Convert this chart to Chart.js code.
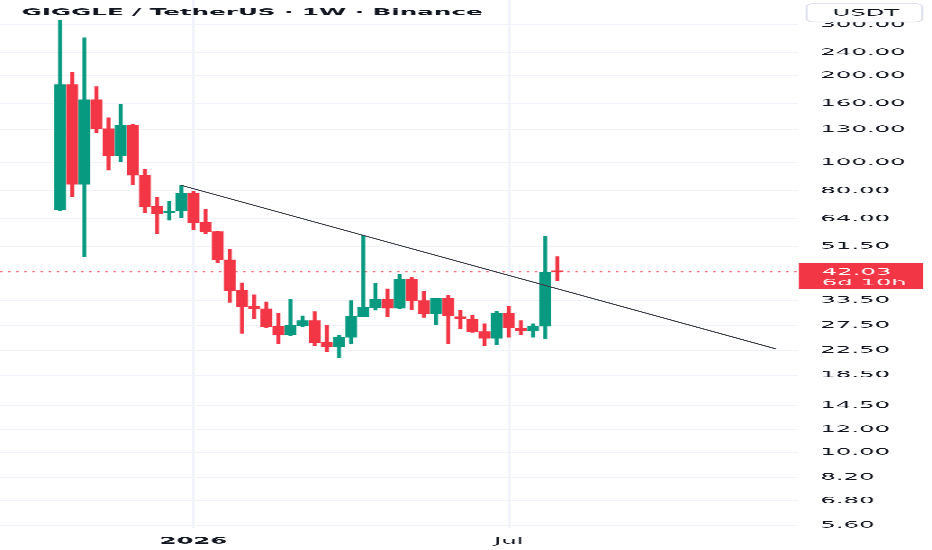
<!DOCTYPE html>
<html>
<head>
<meta charset="utf-8">
<title>GIGGLE / TetherUS 1W</title>
<script src="https://cdn.jsdelivr.net/npm/chart.js@4.4.1/dist/chart.umd.min.js"></script>
<style>
    html, body { margin: 0; padding: 0; background: #fff; overflow: hidden; }
    /* the reference is a narrow screenshot stretched sideways, so draw narrow and stretch */
    #wrap { width: 345px; height: 550px; transform: scaleX(2.7014); transform-origin: 0 0; }
</style>
</head>
<body>
<div id="wrap"><canvas id="grafica" width="345" height="550"></canvas></div>
<script>
// Velas semanales (OHLC)
const opens  = [68.8, 186, 84.4, 165, 131, 105.7, 135, 90.7, 70.7, 67.2, 68.3, 78.4, 62.2, 57.8,
                46.2, 36.2, 31.9, 31.3, 27.2, 25.5, 27.4, 28.5, 24.0, 23.2, 25.0, 29.5, 31.7, 33.7,
                31.5, 39.5, 33.4, 30.1, 34.1, 29.4, 28.8, 26.1, 24.8, 30.2, 26.9, 26.3, 27.3, 42.3];
const highs  = [311, 205, 270, 183, 143, 159, 136, 95.1, 75.9, 73.4, 83.6, 79.6, 69.2, 58.0,
                50.2, 38.5, 35.0, 33.1, 30.2, 33.7, 29.6, 30.6, 27.4, 25.3, 33.4, 56.3, 38.3, 36.7,
                41.3, 40.2, 35.9, 34.1, 34.8, 31.0, 29.7, 27.8, 30.7, 31.9, 28.5, 27.8, 55.7, 47.4];
const lows   = [68.5, 76.5, 47.5, 127, 94.4, 101, 84, 67.1, 56.8, 63.4, 64.6, 58.6, 57.0, 45.3,
                33.0, 25.8, 29.0, 27.0, 23.8, 25.3, 27.2, 23.4, 22.3, 21.2, 23.7, 29.4, 31.0, 29.4,
                31.3, 31.1, 29.3, 27.6, 23.7, 26.7, 26.0, 23.4, 23.6, 25.0, 25.5, 25.0, 24.7, 39.2];
const closes = [186, 84.4, 165, 131, 105.7, 135, 90.7, 70.7, 66.9, 68.0, 78.4, 62.2, 57.8, 46.2,
                36.2, 31.9, 31.3, 27.2, 25.5, 27.4, 28.5, 24.0, 23.2, 25.0, 29.5, 31.7, 33.7, 31.5,
                39.5, 33.4, 30.1, 34.0, 29.7, 29.0, 26.1, 24.8, 30.2, 26.9, 26.4, 27.3, 41.8, 42.03];

// Eje de precios y eje de tiempo (índice de la vela semanal)
const priceTicks = [300, 240, 200, 160, 130, 100, 80, 64, 51.5, 33.5, 27.5, 22.5, 18.5, 14.5, 12, 10, 8.2, 6.8, 5.6];
const timeTicks  = [11, 37];
const timeLabels = ['2026', 'Jul'];

// Línea de tendencia (vela, precio)
const trendX = [10, 59];
const trendY = [83.6, 22.8];

const lastPrice = 42.03;
const countdown = '6d 10h';
const titulo = 'GIGGLE / TetherUS · 1W · Binance';
const moneda = 'USDT';

const VERDE = '#089981';
const ROJO = '#f23645';
const TEXTO = '#131722';
const GRID = '#f0f3fa';
const FUENTE = "'DejaVu Sans', sans-serif";

Chart.defaults.font.family = FUENTE;
Chart.defaults.font.size = 9;
Chart.defaults.color = TEXTO;

const colores = closes.map((c, i) => c >= opens[i] ? VERDE : ROJO);
const mechas = lows.map((l, i) => ({ x: i, y: [l, highs[i]] }));
const cuerpos = opens.map((o, i) => ({ x: i, y: [o, closes[i]] }));

const extras = {
    id: 'extras',
    beforeDatasetsDraw(chart) {
        // línea punteada del último precio
        const { ctx, chartArea } = chart;
        const y = chart.scales.y.getPixelForValue(lastPrice);
        ctx.save();
        ctx.strokeStyle = 'rgba(242,54,69,0.75)';
        ctx.lineWidth = 1.1;
        ctx.setLineDash([0.9, 2.1]);
        ctx.beginPath();
        ctx.moveTo(chartArea.left, y);
        ctx.lineTo(chartArea.right, y);
        ctx.stroke();
        ctx.restore();
    },
    afterDraw(chart) {
        const { ctx, chartArea } = chart;
        const y = chart.scales.y.getPixelForValue(lastPrice);
        ctx.save();

        // título
        ctx.fillStyle = TEXTO;
        ctx.font = `bold 9.1px ${FUENTE}`;
        ctx.textBaseline = 'middle';
        ctx.textAlign = 'left';
        ctx.fillText(titulo, 8, 12.5);

        // botón de moneda
        ctx.beginPath();
        ctx.roundRect(298.6, 3.5, 42.8, 18.5, 3);
        ctx.fillStyle = '#fff';
        ctx.fill();
        ctx.strokeStyle = '#e0e3eb';
        ctx.lineWidth = 0.8;
        ctx.stroke();
        ctx.fillStyle = TEXTO;
        ctx.font = `9px ${FUENTE}`;
        ctx.textAlign = 'center';
        ctx.fillText(moneda, 320.5, 13.2);

        // etiqueta del precio actual
        ctx.fillStyle = ROJO;
        ctx.fillRect(chartArea.right + 0.5, y - 9, 46, 26);
        ctx.textAlign = 'left';
        ctx.fillStyle = '#fff';
        ctx.fillText(lastPrice.toFixed(2), 304.2, y + 0.5);
        ctx.fillStyle = 'rgba(255,255,255,0.9)';
        ctx.fillText(countdown, 304.2, y + 11);
        ctx.restore();
    }
};

new Chart(document.getElementById('grafica'), {
    type: 'bar',
    data: {
        datasets: [
            {
                label: 'mechas',
                data: mechas,
                backgroundColor: colores,
                barThickness: 0.8,
                grouped: false,
                order: 2
            },
            {
                label: 'cuerpos',
                data: cuerpos,
                backgroundColor: colores,
                barThickness: 3.7,
                minBarLength: 1,
                grouped: false,
                order: 1
            },
            {
                type: 'line',
                label: 'tendencia',
                data: trendX.map((x, i) => ({ x, y: trendY[i] })),
                borderColor: '#3a3e48',
                borderWidth: 0.9,
                pointRadius: 0,
                order: 0
            }
        ]
    },
    options: {
        responsive: false,
        devicePixelRatio: 3,
        animation: false,
        events: [],
        layout: { padding: 0 },
        plugins: {
            legend: { display: false },
            tooltip: { enabled: false }
        },
        scales: {
            x: {
                type: 'linear',
                min: -4.95,
                max: 60.8,
                offset: false,
                grid: { color: GRID, offset: false, drawTicks: false },
                border: { display: false },
                ticks: {
                    autoSkip: false,
                    maxRotation: 0,
                    padding: 8,
                    color: TEXTO,
                    callback: value => timeLabels[timeTicks.indexOf(value)] ?? '',
                    font: ctx => ({ family: FUENTE, size: 9, weight: ctx.index === 0 ? 'bold' : 'normal' })
                },
                afterBuildTicks: scale => { scale.ticks = timeTicks.map(v => ({ value: v })); },
                afterFit: scale => {
                    scale.height = 22;
                    scale.paddingLeft = 0;
                    scale.paddingRight = 0;
                }
            },
            y: {
                type: 'logarithmic',
                position: 'right',
                min: 5.485,
                max: 364.8,
                beginAtZero: false,
                grid: { color: GRID, drawTicks: false },
                border: { display: false },
                ticks: {
                    autoSkip: false,
                    padding: 8.5,
                    color: TEXTO,
                    callback: value => Number(value).toFixed(2)
                },
                afterBuildTicks: scale => { scale.ticks = priceTicks.map(v => ({ value: v })); },
                afterFit: scale => {
                    scale.width = 49.8;
                    scale.paddingTop = 0;
                    scale.paddingBottom = 0;
                }
            }
        }
    },
    plugins: [extras]
});
</script>
</body>
</html>
